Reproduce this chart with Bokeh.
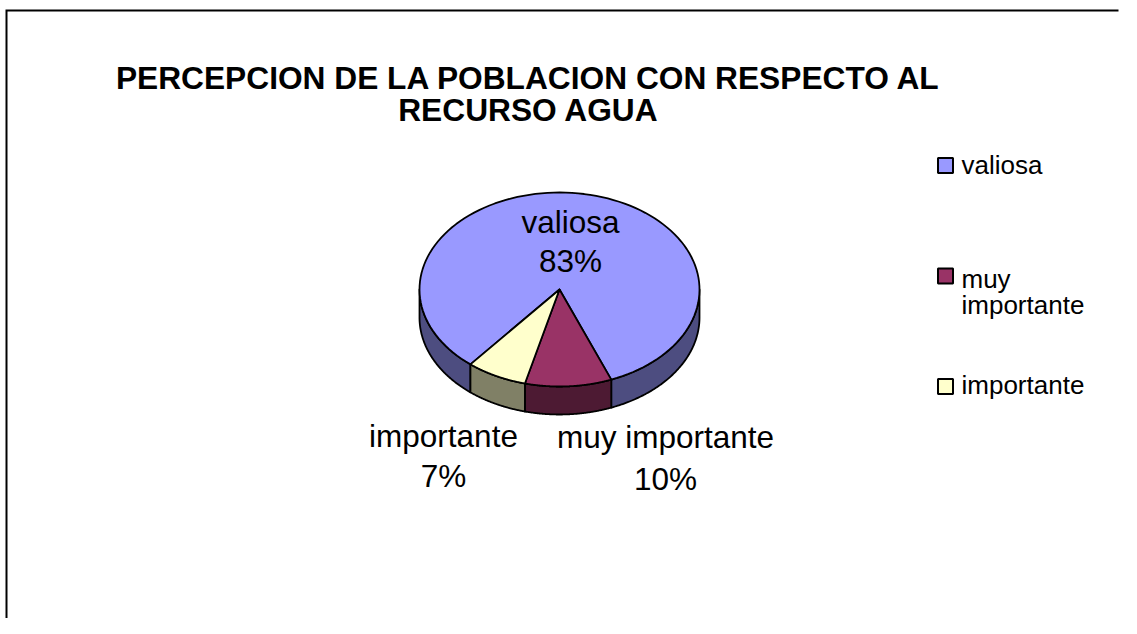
import numpy as np
from bokeh.plotting import figure
from bokeh.models import Range1d
from bokeh.core.properties import value
from bokeh.embed import file_html
from bokeh.resources import INLINE

# ---- data ----
categories = ["valiosa", "muy importante", "importante"]
percentages = [83, 10, 7]
legend_labels = ["valiosa", "muy\nimportante", "importante"]
title_lines = ["PERCEPCION DE LA POBLACION CON RESPECTO AL", "RECURSO AGUA"]

# ---- styles ----
top_colors = ["#9999FF", "#993366", "#FFFFCC"]
side_colors = ["#4D4D80", "#4D1A33", "#808066"]
FONT = value("Liberation Sans")

W, H = 1121, 618
p = figure(width=W, height=H, x_range=Range1d(0, W), y_range=Range1d(H, 0),
           x_axis_type=None, y_axis_type=None, output_backend="svg",
           toolbar_location=None, min_border=0)
p.grid.visible = False
p.outline_line_color = None
p.background_fill_color = "white"
p.border_fill_color = "white"

# chart border (left & top visible)
p.line(x=[6, 6, W - 3], y=[H, 10, 10], line_color="black", line_width=2, line_join="miter")

# baseline correction for Bokeh text placement
def bl(y, size):
    return y - 0.33 * size

# ---- title ----
TS = 31.7
title_x = 528
title_baselines = [88, 120]
p.text(x=[title_x] * len(title_lines), y=[bl(y, TS) for y in title_baselines], text=title_lines,
       text_font=FONT, text_font_size=f"{TS}px", text_font_style="bold",
       text_align="center", text_baseline="alphabetic", text_color="black")

# ---- 3D pie ----
cx, cy, rx, ry, depth = 559, 289, 140, 97, 28
start_deg = 230.5
total = float(sum(percentages))
cum = np.cumsum([0] + percentages)

def arc(a, b, n=120):
    t = np.radians(np.linspace(a, b, n))
    return cx + rx * np.cos(t), cy - ry * np.sin(t)

side_xs, side_ys, side_fc = [], [], []
top_xs, top_ys = [], []
for i, v in enumerate(percentages):
    hi = start_deg - cum[i] / total * 360.0
    lo = hi - v / total * 360.0
    for k in range(-2, 3):
        a = max(lo, 180 + 360 * k)
        b = min(hi, 360 + 360 * k)
        if b > a:
            x1, y1 = arc(a, b)
            xs = np.concatenate([x1, x1[::-1]])
            ys = np.concatenate([y1, (y1 + depth)[::-1]])
            side_xs.append(list(xs)); side_ys.append(list(ys)); side_fc.append(side_colors[i])
    x1, y1 = arc(lo, hi)
    top_xs.append([cx] + list(x1)); top_ys.append([cy] + list(y1))

p.patches(xs=side_xs, ys=side_ys, fill_color=side_fc, line_color="black",
          line_width=1.8, line_join="round")
p.patches(xs=top_xs, ys=top_ys, fill_color=top_colors, line_color="black",
          line_width=1.8, line_join="round")

# ---- data labels ----
LS = 31.5
label_pos = [(570, 232, 271), (665, 447, 489), (443, 446, 486)]
for i, cat in enumerate(categories):
    x, y1, y2 = label_pos[i]
    p.text(x=[x, x], y=[bl(y1, LS), bl(y2, LS)], text=[cat, f"{percentages[i]}%"],
           text_font=FONT, text_font_size=f"{LS}px", text_align="center",
           text_baseline="alphabetic", text_color="black")

# ---- legend ----
GS = 26
sq_x = 945
sq_y = [165, 275.5, 386]
txt_x = 961
txt_y = [173, 287, 393]
p.rect(x=[sq_x] * 3, y=sq_y, width=15, height=15, fill_color=top_colors,
       line_color="black", line_width=2)
for i, lab in enumerate(legend_labels):
    lines = lab.split("\n")
    p.text(x=[txt_x] * len(lines), y=[bl(txt_y[i] + 26 * j, GS) for j in range(len(lines))],
           text=lines, text_font=FONT, text_font_size=f"{GS}px", text_align="left",
           text_baseline="alphabetic", text_color="black")

open("out.html", "w").write(file_html(p, INLINE))
